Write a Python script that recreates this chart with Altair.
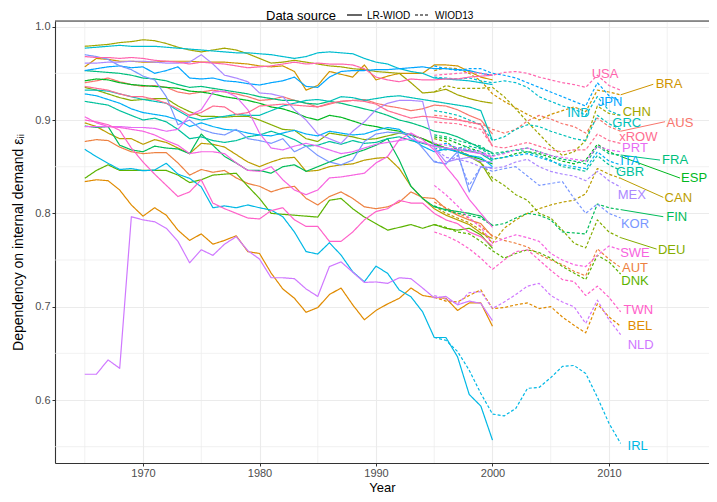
import math
import altair as alt
import pandas as pd

countries = ["AUS", "AUT", "BEL", "BRA", "CAN", "CHN", "DEU", "DNK", "ESP", "FIN",
             "FRA", "GBR", "GRC", "IND", "IRL", "ITA", "JPN", "KOR", "MEX", "NLD",
             "PRT", "SWE", "TWN", "USA", "xROW"]
years_lr = list(range(1965, 2001))
years_w13 = list(range(1995, 2012))

lr_AUS = [0.940, 0.942, 0.945, 0.941, 0.938, 0.936, 0.937, 0.935, 0.930, 0.928, 0.930, 0.932, 0.930, 0.928, 0.925, 0.921, 0.922, 0.925, 0.921, 0.918, 0.914, 0.917, 0.920, 0.921, 0.922, 0.918, 0.915, 0.913, 0.910, 0.912, 0.916, 0.915, 0.911, 0.905, 0.900, 0.885]
w13_AUS = [0.905, 0.904, 0.901, 0.897, 0.896, 0.890, 0.886, 0.890, 0.899, 0.905, 0.901, 0.896, 0.893, 0.886, 0.902, 0.893, 0.888]
lr_AUT = [0.877, 0.879, 0.878, 0.871, 0.866, 0.864, 0.865, 0.865, 0.854, 0.841, 0.847, 0.844, 0.846, 0.838, 0.832, 0.829, 0.823, 0.827, 0.829, 0.816, 0.809, 0.818, 0.823, 0.816, 0.807, 0.805, 0.807, 0.812, 0.823, 0.817, 0.816, 0.805, 0.798, 0.793, 0.789, 0.775]
w13_AUT = [0.812, 0.806, 0.800, 0.795, 0.786, 0.776, 0.771, 0.768, 0.764, 0.756, 0.750, 0.745, 0.738, 0.733, 0.762, 0.751, 0.742]
lr_BEL = [0.834, 0.836, 0.835, 0.825, 0.809, 0.797, 0.806, 0.798, 0.782, 0.771, 0.778, 0.767, 0.771, 0.776, 0.759, 0.757, 0.736, 0.719, 0.709, 0.694, 0.699, 0.713, 0.720, 0.702, 0.686, 0.696, 0.703, 0.709, 0.720, 0.712, 0.710, 0.709, 0.696, 0.704, 0.704, 0.679]
w13_BEL = [0.710, 0.706, 0.705, 0.712, 0.718, 0.698, 0.699, 0.702, 0.704, 0.698, 0.700, 0.689, 0.680, 0.672, 0.703, 0.689, 0.679]
lr_BRA = [0.957, 0.966, 0.965, 0.963, 0.963, 0.962, 0.962, 0.963, 0.963, 0.963, 0.962, 0.962, 0.962, 0.961, 0.960, 0.958, 0.957, 0.958, 0.952, 0.932, 0.937, 0.952, 0.949, 0.946, 0.959, 0.943, 0.947, 0.950, 0.950, 0.950, 0.959, 0.959, 0.958, 0.952, 0.946, 0.943]
w13_BRA = [0.953, 0.956, 0.955, 0.950, 0.942, 0.928, 0.920, 0.913, 0.906, 0.900, 0.906, 0.910, 0.914, 0.909, 0.932, 0.930, 0.927]
lr_CAN = [0.897, 0.893, 0.886, 0.880, 0.880, 0.874, 0.879, 0.876, 0.870, 0.864, 0.875, 0.874, 0.871, 0.863, 0.855, 0.850, 0.855, 0.859, 0.860, 0.845, 0.846, 0.850, 0.852, 0.853, 0.857, 0.859, 0.860, 0.848, 0.829, 0.816, 0.805, 0.798, 0.793, 0.788, 0.779, 0.773]
w13_CAN = [0.808, 0.800, 0.795, 0.790, 0.782, 0.768, 0.784, 0.793, 0.800, 0.805, 0.809, 0.812, 0.814, 0.821, 0.848, 0.842, 0.8375]
lr_CHN = [0.979, 0.980, 0.981, 0.983, 0.984, 0.986, 0.985, 0.982, 0.978, 0.975, 0.973, 0.975, 0.977, 0.975, 0.971, 0.966, 0.961, 0.962, 0.964, 0.962, 0.960, 0.958, 0.957, 0.955, 0.954, 0.952, 0.951, 0.950, 0.940, 0.929, 0.930, 0.933, 0.927, 0.923, 0.920, 0.918]
w13_CHN = [0.930, 0.937, 0.934, 0.934, 0.934, 0.935, 0.925, 0.912, 0.898, 0.885, 0.872, 0.862, 0.866, 0.878, 0.915, 0.907, 0.905]
lr_DEU = [0.935, 0.932, 0.928, 0.924, 0.921, 0.922, 0.923, 0.923, 0.915, 0.909, 0.904, 0.904, 0.903, 0.904, 0.904, 0.900, 0.895, 0.890, 0.889, 0.880, 0.877, 0.886, 0.884, 0.882, 0.879, 0.880, 0.883, 0.886, 0.884, 0.880, 0.875, 0.870, 0.866, 0.861, 0.854, 0.834]
w13_DEU = [0.880, 0.877, 0.868, 0.862, 0.855, 0.838, 0.830, 0.820, 0.814, 0.800, 0.795, 0.782, 0.768, 0.763, 0.793, 0.780, 0.774]
lr_DNK = [0.8375, 0.846, 0.852, 0.846, 0.846, 0.846, 0.846, 0.846, 0.841, 0.833, 0.836, 0.841, 0.842, 0.843, 0.829, 0.816, 0.800, 0.799, 0.798, 0.797, 0.796, 0.814, 0.816, 0.805, 0.796, 0.789, 0.782, 0.785, 0.788, 0.784, 0.788, 0.784, 0.782, 0.784, 0.777, 0.7625]
w13_DNK = [0.788, 0.785, 0.780, 0.778, 0.770, 0.760, 0.752, 0.757, 0.761, 0.758, 0.752, 0.743, 0.736, 0.729, 0.755, 0.748, 0.735]
lr_ESP = [0.942, 0.944, 0.943, 0.940, 0.938, 0.937, 0.936, 0.935, 0.934, 0.931, 0.930, 0.928, 0.925, 0.923, 0.921, 0.918, 0.914, 0.912, 0.908, 0.903, 0.900, 0.905, 0.903, 0.899, 0.895, 0.893, 0.890, 0.888, 0.884, 0.880, 0.874, 0.870, 0.866, 0.862, 0.858, 0.853]
w13_ESP = [0.882, 0.880, 0.875, 0.870, 0.866, 0.858, 0.860, 0.864, 0.866, 0.864, 0.860, 0.856, 0.853, 0.857, 0.874, 0.866, 0.861]
lr_FIN = [0.8936, 0.892, 0.893, 0.873, 0.868, 0.866, 0.872, 0.870, 0.869, 0.864, 0.885, 0.873, 0.861, 0.854, 0.846, 0.846, 0.843, 0.850, 0.852, 0.845, 0.850, 0.855, 0.860, 0.864, 0.868, 0.873, 0.880, 0.857, 0.829, 0.816, 0.807, 0.804, 0.802, 0.800, 0.797, 0.787]
w13_FIN = [0.808, 0.803, 0.800, 0.798, 0.795, 0.787, 0.789, 0.795, 0.800, 0.798, 0.793, 0.780, 0.779, 0.778, 0.810, 0.806, 0.804]
lr_FRA = [0.953, 0.952, 0.951, 0.950, 0.948, 0.945, 0.944, 0.942, 0.938, 0.935, 0.936, 0.934, 0.932, 0.930, 0.928, 0.925, 0.923, 0.921, 0.921, 0.918, 0.917, 0.920, 0.918, 0.915, 0.912, 0.909, 0.905, 0.900, 0.897, 0.893, 0.888, 0.886, 0.882, 0.876, 0.870, 0.865]
w13_FRA = [0.884, 0.882, 0.878, 0.875, 0.872, 0.864, 0.866, 0.868, 0.870, 0.866, 0.862, 0.858, 0.856, 0.853, 0.872, 0.864, 0.8625]
lr_GBR = [0.920, 0.918, 0.916, 0.910, 0.905, 0.900, 0.902, 0.898, 0.890, 0.880, 0.882, 0.878, 0.876, 0.878, 0.882, 0.884, 0.888, 0.884, 0.879, 0.872, 0.873, 0.877, 0.874, 0.878, 0.875, 0.876, 0.880, 0.882, 0.878, 0.875, 0.872, 0.870, 0.868, 0.867, 0.864, 0.856]
w13_GBR = [0.870, 0.868, 0.870, 0.872, 0.869, 0.862, 0.865, 0.868, 0.866, 0.862, 0.857, 0.850, 0.848, 0.845, 0.862, 0.852, 0.846]
lr_GRC = [0.932, 0.932, 0.931, 0.928, 0.925, 0.922, 0.920, 0.918, 0.910, 0.903, 0.900, 0.902, 0.904, 0.906, 0.905, 0.905, 0.910, 0.915, 0.918, 0.921, 0.922, 0.920, 0.925, 0.924, 0.921, 0.923, 0.925, 0.926, 0.924, 0.922, 0.920, 0.918, 0.916, 0.914, 0.910, 0.878]
w13_GRC = [0.910, 0.908, 0.905, 0.900, 0.895, 0.878, 0.882, 0.890, 0.895, 0.893, 0.888, 0.884, 0.880, 0.878, 0.905, 0.896, 0.890]
lr_IND = [0.977, 0.978, 0.979, 0.980, 0.979, 0.979, 0.979, 0.978, 0.977, 0.976, 0.975, 0.974, 0.973, 0.972, 0.972, 0.971, 0.970, 0.968, 0.966, 0.968, 0.972, 0.973, 0.972, 0.971, 0.966, 0.962, 0.960, 0.955, 0.952, 0.950, 0.945, 0.944, 0.943, 0.942, 0.940, 0.938]
w13_IND = [0.946, 0.945, 0.944, 0.945, 0.942, 0.940, 0.942, 0.940, 0.935, 0.925, 0.920, 0.915, 0.912, 0.905, 0.925, 0.910, 0.905]
lr_IRL = [0.8686, 0.8607, 0.8536, 0.847, 0.848, 0.8457, 0.8464, 0.8536, 0.842, 0.8375, 0.8285, 0.806, 0.808, 0.806, 0.809, 0.806, 0.8035, 0.7964, 0.780, 0.759, 0.7564, 0.7685, 0.7553, 0.7374, 0.7267, 0.7435, 0.7357, 0.7178, 0.7106, 0.6945, 0.667, 0.667, 0.6463, 0.606, 0.5935, 0.557]
w13_IRL = [0.667, 0.664, 0.652, 0.632, 0.607, 0.585, 0.583, 0.591, 0.6125, 0.6135, 0.624, 0.636, 0.637, 0.6285, 0.603, 0.575, 0.5535]
lr_ITA = [0.928, 0.926, 0.922, 0.918, 0.912, 0.908, 0.906, 0.904, 0.900, 0.893, 0.897, 0.893, 0.890, 0.889, 0.886, 0.884, 0.883, 0.886, 0.889, 0.885, 0.883, 0.888, 0.886, 0.884, 0.885, 0.889, 0.892, 0.890, 0.880, 0.872, 0.866, 0.869, 0.866, 0.862, 0.860, 0.850]
w13_ITA = [0.872, 0.875, 0.870, 0.868, 0.866, 0.858, 0.860, 0.862, 0.864, 0.860, 0.856, 0.852, 0.850, 0.848, 0.866, 0.856, 0.852]
lr_JPN = [0.953, 0.955, 0.957, 0.958, 0.956, 0.957, 0.950, 0.953, 0.957, 0.945, 0.944, 0.945, 0.942, 0.941, 0.939, 0.9375, 0.940, 0.942, 0.946, 0.936, 0.935, 0.946, 0.952, 0.953, 0.953, 0.954, 0.954, 0.955, 0.956, 0.957, 0.955, 0.955, 0.954, 0.953, 0.950, 0.948]
w13_JPN = [0.958, 0.955, 0.953, 0.955, 0.955, 0.950, 0.948, 0.945, 0.940, 0.935, 0.930, 0.925, 0.920, 0.915, 0.940, 0.926, 0.920]
lr_KOR = [0.970, 0.968, 0.965, 0.958, 0.954, 0.947, 0.943, 0.925, 0.895, 0.900, 0.890, 0.886, 0.884, 0.890, 0.880, 0.878, 0.875, 0.880, 0.866, 0.872, 0.862, 0.855, 0.852, 0.857, 0.877, 0.885, 0.887, 0.886, 0.885, 0.870, 0.855, 0.853, 0.866, 0.823, 0.850, 0.849]
w13_KOR = [0.856, 0.853, 0.862, 0.830, 0.850, 0.845, 0.848, 0.850, 0.840, 0.830, 0.832, 0.834, 0.816, 0.800, 0.810, 0.800, 0.795]
lr_MEX = [0.961, 0.961, 0.962, 0.962, 0.963, 0.963, 0.962, 0.961, 0.961, 0.962, 0.970, 0.960, 0.948, 0.945, 0.941, 0.929, 0.928, 0.925, 0.911, 0.900, 0.885, 0.880, 0.875, 0.888, 0.898, 0.911, 0.918, 0.921, 0.921, 0.920, 0.870, 0.855, 0.858, 0.860, 0.856, 0.855]
w13_MEX = [0.870, 0.860, 0.858, 0.855, 0.850, 0.848, 0.850, 0.855, 0.858, 0.850, 0.845, 0.842, 0.840, 0.835, 0.845, 0.835, 0.828]
lr_NLD = [0.6276, 0.6276, 0.643, 0.634, 0.7964, 0.793, 0.791, 0.784, 0.770, 0.747, 0.761, 0.755, 0.767, 0.775, 0.760, 0.751, 0.731, 0.731, 0.730, 0.719, 0.711, 0.743, 0.748, 0.737, 0.726, 0.7265, 0.725, 0.731, 0.730, 0.720, 0.7095, 0.711, 0.702, 0.706, 0.7035, 0.685]
w13_NLD = [0.712, 0.708, 0.703, 0.715, 0.716, 0.698, 0.705, 0.713, 0.722, 0.725, 0.712, 0.705, 0.700, 0.682, 0.707, 0.686, 0.670]
lr_PRT = [0.893, 0.893, 0.893, 0.893, 0.892, 0.892, 0.891, 0.888, 0.890, 0.905, 0.911, 0.930, 0.931, 0.925, 0.911, 0.886, 0.870, 0.868, 0.872, 0.875, 0.872, 0.868, 0.864, 0.866, 0.870, 0.874, 0.876, 0.878, 0.880, 0.876, 0.872, 0.870, 0.868, 0.866, 0.864, 0.860]
w13_PRT = [0.875, 0.873, 0.870, 0.868, 0.866, 0.861, 0.864, 0.868, 0.870, 0.866, 0.862, 0.860, 0.858, 0.856, 0.872, 0.868, 0.866]
lr_SWE = [0.9035, 0.897, 0.893, 0.892, 0.890, 0.888, 0.884, 0.878, 0.873, 0.864, 0.866, 0.866, 0.864, 0.854, 0.846, 0.845, 0.850, 0.836, 0.825, 0.820, 0.825, 0.838, 0.839, 0.841, 0.843, 0.854, 0.861, 0.879, 0.886, 0.879, 0.868, 0.850, 0.835, 0.815, 0.800, 0.785]
w13_SWE = [0.830, 0.820, 0.808, 0.795, 0.785, 0.768, 0.773, 0.777, 0.774, 0.770, 0.757, 0.750, 0.745, 0.743, 0.755, 0.765, 0.761]
lr_TWN = [0.900, 0.898, 0.895, 0.889, 0.870, 0.855, 0.842, 0.830, 0.818, 0.823, 0.836, 0.811, 0.805, 0.800, 0.795, 0.794, 0.803, 0.806, 0.793, 0.786, 0.786, 0.770, 0.770, 0.780, 0.793, 0.802, 0.805, 0.814, 0.811, 0.811, 0.800, 0.793, 0.789, 0.780, 0.775, 0.765]
w13_TWN = [0.780, 0.776, 0.770, 0.762, 0.752, 0.740, 0.750, 0.759, 0.761, 0.750, 0.739, 0.729, 0.727, 0.712, 0.722, 0.710, 0.6945]
lr_USA = [0.968, 0.967, 0.967, 0.966, 0.967, 0.966, 0.964, 0.963, 0.962, 0.960, 0.962, 0.961, 0.960, 0.958, 0.956, 0.957, 0.958, 0.960, 0.962, 0.960, 0.961, 0.960, 0.960, 0.959, 0.955, 0.946, 0.943, 0.941, 0.944, 0.943, 0.943, 0.944, 0.944, 0.946, 0.947, 0.948]
w13_USA = [0.948, 0.949, 0.950, 0.951, 0.950, 0.948, 0.951, 0.952, 0.950, 0.946, 0.943, 0.940, 0.938, 0.935, 0.948, 0.937, 0.932]
lr_xROW = [0.936, 0.934, 0.932, 0.928, 0.925, 0.925, 0.922, 0.918, 0.912, 0.905, 0.908, 0.915, 0.914, 0.906, 0.908, 0.915, 0.916, 0.917, 0.916, 0.915, 0.914, 0.918, 0.920, 0.921, 0.920, 0.917, 0.910, 0.906, 0.902, 0.904, 0.903, 0.901, 0.900, 0.898, 0.895, 0.872]
w13_xROW = [0.898, 0.897, 0.896, 0.893, 0.890, 0.872, 0.870, 0.873, 0.876, 0.872, 0.868, 0.866, 0.868, 0.868, 0.885, 0.878, 0.875]

series_lr = {c: globals()["lr_" + c] for c in countries}
series_w13 = {c: globals()["w13_" + c] for c in countries}

# ---- layout (label placement, as ggrepel placed them) in data units ----
label_pos = {
    "USA": (2009.66, 0.9493), "BRA": (2015.15, 0.9383), "JPN": (2010.09, 0.9196),
    "IND": (2007.37, 0.9078), "CHN": (2012.38, 0.9089), "GRC": (2011.52, 0.8971),
    "AUS": (2016.09, 0.8971), "xROW": (2012.52, 0.8815), "PRT": (2012.23, 0.8697),
    "FRA": (2015.67, 0.8571), "ITA": (2011.80, 0.8561), "GBR": (2011.80, 0.8446),
    "ESP": (2017.30, 0.8375), "MEX": (2011.95, 0.8196), "CAN": (2015.95, 0.8161),
    "FIN": (2015.81, 0.7964), "KOR": (2012.23, 0.7882), "DEU": (2015.38, 0.7607),
    "SWE": (2012.23, 0.7571), "AUT": (2012.23, 0.7417), "DNK": (2012.23, 0.7274),
    "TWN": (2012.52, 0.6964), "BEL": (2012.66, 0.6792), "NLD": (2012.72, 0.6588),
    "IRL": (2012.46, 0.5506),
}
connector_end = {
    "BRA": (2013.80, 0.9383), "AUS": (2014.81, 0.8982), "FRA": (2014.38, 0.8571),
    "ESP": (2016.10, 0.8378), "CAN": (2014.66, 0.8171), "FIN": (2014.66, 0.7964),
    "DEU": (2014.09, 0.7617),
}


def hcl_hex(h, c=100.0, l=65.0):
    hr = math.radians(h)
    U, V = c * math.cos(hr), c * math.sin(hr)
    Xn, Yn, Zn = 95.047, 100.0, 108.883
    Y = Yn * ((l + 16) / 116) ** 3
    den = Xn + 15 * Yn + 3 * Zn
    un, vn = 4 * Xn / den, 9 * Yn / den
    up, vp = U / (13 * l) + un, V / (13 * l) + vn
    X = 9.0 * Y * up / (4 * vp)
    Z = -X / 3 - 5 * Y + 3 * Y / vp
    X, Y, Z = X / 100, Y / 100, Z / 100
    r = 3.240479 * X - 1.537150 * Y - 0.498535 * Z
    g = -0.969256 * X + 1.875992 * Y + 0.041556 * Z
    b = 0.055648 * X - 0.204043 * Y + 1.057311 * Z

    def gam(u):
        u = 12.92 * u if u <= 0.0031308 else 1.055 * (max(u, 0) ** (1 / 2.4)) - 0.055
        return max(0.0, min(1.0, u))
    return "#%02X%02X%02X" % tuple(int(round(255 * gam(v))) for v in (r, g, b))


n = len(countries)
colors = [hcl_hex(15 + 360 * i / n) for i in range(n)]

rows = []
for c in countries:
    for yr, v in zip(years_lr, series_lr[c]):
        rows.append({"country": c, "year": yr, "value": v, "source": "LR-WIOD"})
    for yr, v in zip(years_w13, series_w13[c]):
        rows.append({"country": c, "year": yr, "value": v, "source": "WIOD13"})
df = pd.DataFrame(rows)

lab_df = pd.DataFrame([{"country": c, "year": label_pos[c][0], "value": label_pos[c][1]}
                       for c in countries])
con_df = pd.DataFrame([{"country": c, "year": 2011, "value": series_w13[c][-1],
                        "year2": connector_end[c][0], "value2": connector_end[c][1]}
                       for c in connector_end])

FONT = "Liberation Sans"
W, H = 654, 442
xs = alt.Scale(domain=[1962.446, 2018.584], nice=False, zero=False)
ys = alt.Scale(domain=[0.53252, 1.0061], nice=False, zero=False)
cscale = alt.Scale(domain=countries, range=colors)

x_axis = alt.Axis(values=[1970, 1980, 1990, 2000, 2010], format="d", title="Year",
                  grid=True, gridColor="#EBEBEB", gridWidth=1.1,
                  domainColor="#333333", domainWidth=1.1, tickColor="#333333",
                  tickSize=3, labelFont=FONT, labelFontSize=11, labelColor="#4D4D4D",
                  labelPadding=1, titleFont=FONT, titleFontSize=13,
                  titleFontWeight="normal", titleColor="#000000",
                  titleBaseline="alphabetic", titleY=28.2)
y_axis = alt.Axis(values=[0.6, 0.7, 0.8, 0.9, 1.0], format=".1f",
                  title="Dependency on internal demand \u03b5\u1d62\u1d62",
                  grid=True, gridColor="#EBEBEB", gridWidth=1.1,
                  domainColor="#333333", domainWidth=1.1, tickColor="#333333",
                  tickSize=3, labelFont=FONT, labelFontSize=11, labelColor="#4D4D4D",
                  labelPadding=2, titleFont=FONT, titleFontSize=14,
                  titleFontWeight="normal", titleColor="#000000", titlePadding=9)


def X(field="year:Q"):
    return alt.X(field, scale=xs, axis=x_axis)


def Y(field="value:Q"):
    return alt.Y(field, scale=ys, axis=y_axis)


minor_x = pd.DataFrame({"year": [1965, 1975, 1985, 1995, 2005, 2015]})
minor_y = pd.DataFrame({"value": [0.55, 0.65, 0.75, 0.85, 0.95]})
one = pd.DataFrame({"a": [0]})

grid_x = alt.Chart(minor_x).mark_rule(color="#EBEBEB", strokeWidth=0.7).encode(x=X())
grid_y = alt.Chart(minor_y).mark_rule(color="#EBEBEB", strokeWidth=0.7).encode(y=Y())

lines = alt.Chart(df).mark_line(strokeWidth=1.2, strokeJoin="round").encode(
    x=X(), y=Y(),
    color=alt.Color("country:N", scale=cscale, legend=None),
    strokeDash=alt.StrokeDash("source:N",
                              scale=alt.Scale(domain=["LR-WIOD", "WIOD13"], range=[[1, 0], [3, 2]]),
                              legend=None),
)

connectors = alt.Chart(con_df).mark_rule(strokeWidth=1.0).encode(
    x=X(), x2="year2:Q", y=Y(), y2="value2:Q",
    color=alt.Color("country:N", scale=cscale, legend=None))

labels = alt.Chart(lab_df).mark_text(font=FONT, fontSize=13, align="center",
                                     baseline="middle").encode(
    x=X(), y=Y(), text="country:N",
    color=alt.Color("country:N", scale=cscale, legend=None))

top_border = alt.Chart(one).mark_rule(color="#333333", strokeWidth=1.1).encode(
    y=alt.value(0))

leg_title = alt.Chart(one).mark_text(text="Data source", font=FONT, fontSize=13, align="left",
                                     baseline="alphabetic", color="#000000").encode(
    x=alt.value(211), y=alt.value(-1.5))
leg_solid = alt.Chart(one).mark_rule(color="#000000", strokeWidth=1.2).encode(
    x=alt.value(292), x2=alt.value(307), y=alt.value(-6))
leg_t1 = alt.Chart(one).mark_text(text="LR-WIOD", font=FONT, fontSize=10, align="left",
                                  baseline="alphabetic", color="#000000").encode(
    x=alt.value(312), y=alt.value(-2.5))
leg_dash = alt.Chart(one).mark_rule(color="#000000", strokeWidth=1.2, strokeDash=[3, 2]).encode(
    x=alt.value(360), x2=alt.value(375), y=alt.value(-6))
leg_t2 = alt.Chart(one).mark_text(text="WIOD13", font=FONT, fontSize=10, align="left",
                                  baseline="alphabetic", color="#000000").encode(
    x=alt.value(380), y=alt.value(-2.5))

chart = alt.layer(grid_x, grid_y, lines, connectors, labels, top_border,
                  leg_title, leg_solid, leg_t1, leg_dash, leg_t2).properties(
    width=W, height=H,
    autosize=alt.AutoSizeParams(type="none"),
    padding={"left": 47, "top": 13, "right": 0, "bottom": 31},
).configure_view(stroke=None).configure(background="#FFFFFF")

chart.save("out.html", embed_options={"renderer": "svg", "actions": False})
